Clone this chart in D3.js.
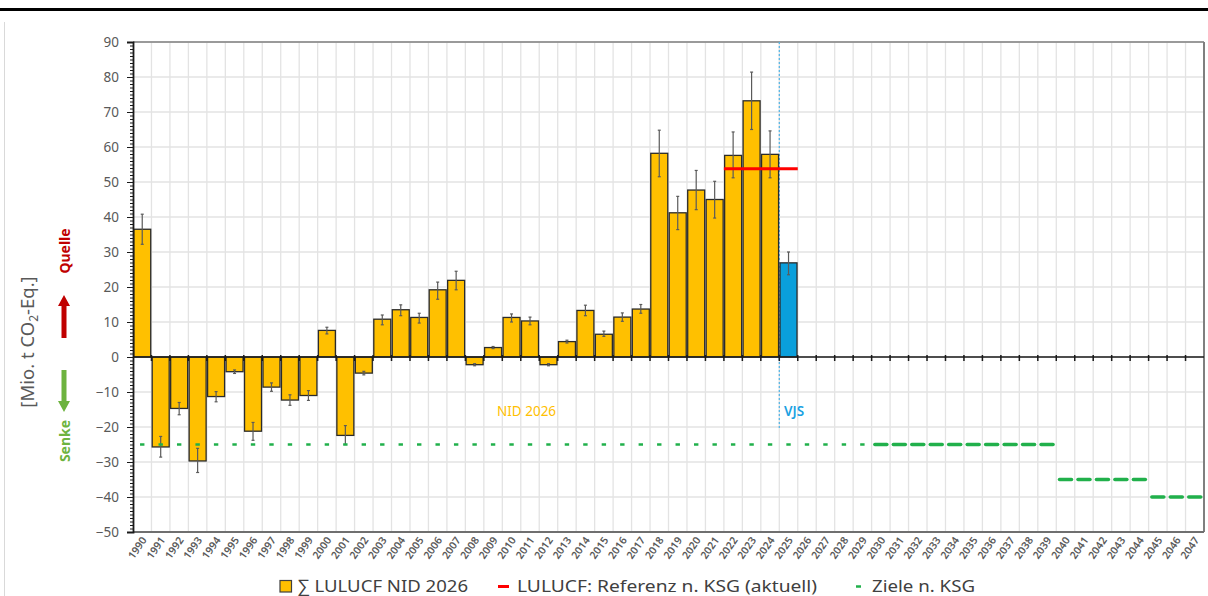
<!DOCTYPE html>
<html>
<head>
<meta charset="utf-8">
<script src="https://cdn.jsdelivr.net/npm/d3@7"></script>
<style>
  body { margin: 0; background: #fff; }
  svg text { font-family: "Noto Sans", "Open Sans", sans-serif; }
</style>
</head>
<body>
<div id="chart"></div>
<script>
// categories (all years on the x axis)
var years = [1990,1991,1992,1993,1994,1995,1996,1997,1998,1999,
  2000,2001,2002,2003,2004,2005,2006,2007,2008,2009,
  2010,2011,2012,2013,2014,2015,2016,2017,2018,2019,
  2020,2021,2022,2023,2024,2025,2026,2027,2028,2029,
  2030,2031,2032,2033,2034,2035,2036,2037,2038,2039,
  2040,2041,2042,2043,2044,2045,2046,2047];

// Sum LULUCF NID 2026 (1990-2024), Mio. t CO2-Eq.
var nidYears = [1990,1991,1992,1993,1994,1995,1996,1997,1998,1999,
  2000,2001,2002,2003,2004,2005,2006,2007,2008,2009,
  2010,2011,2012,2013,2014,2015,2016,2017,2018,2019,
  2020,2021,2022,2023,2024];
var nidValues = [36.5,-25.7,-14.7,-29.7,-11.3,-4.2,-21.2,-8.6,-12.3,-11.0,
  7.6,-22.4,-4.6,10.8,13.5,11.3,19.2,21.9,-2.2,2.7,
  11.3,10.3,-2.2,4.4,13.3,6.5,11.4,13.7,58.2,41.2,
  47.7,45.0,57.6,73.2,57.9];
var nidLow = [32.2,-28.6,-16.5,-33.0,-12.8,-4.7,-23.8,-9.8,-13.8,-12.4,
  6.6,-25.0,-5.1,9.2,11.8,9.7,16.5,19.2,-2.5,2.4,
  10.0,9.2,-2.5,4.0,11.8,5.9,10.2,12.5,51.5,36.4,
  42.1,39.7,51.2,65.0,51.2];
var nidHigh = [40.8,-22.7,-13.0,-26.1,-9.9,-3.7,-18.7,-7.4,-10.8,-9.6,
  8.5,-19.6,-4.1,12.0,14.9,12.5,21.4,24.5,-1.9,3.0,
  12.3,11.4,-1.9,4.8,14.8,7.4,12.6,15.0,64.8,45.9,
  53.3,50.2,64.3,81.4,64.6];

// VJS (2025)
var vjsYears = [2025];
var vjsValues = [26.9];
var vjsLow = [23.5];
var vjsHigh = [30.0];

// LULUCF: Referenz n. KSG (aktuell)
var refYears = [2022,2023,2024,2025];
var refValues = [53.8,53.8,53.8,53.8];

// Ziele n. KSG
var goalYears = years;
var goalValues = [-25,-25,-25,-25,-25,-25,-25,-25,-25,-25,
  -25,-25,-25,-25,-25,-25,-25,-25,-25,-25,
  -25,-25,-25,-25,-25,-25,-25,-25,-25,-25,
  -25,-25,-25,-25,-25,-25,-25,-25,-25,-25,
  -25,-25,-25,-25,-25,-25,-25,-25,-25,-25,
  -35,-35,-35,-35,-35,-40,-40,-40];

var yTicks = [90,80,70,60,50,40,30,20,10,0,-10,-20,-30,-40,-50];

var W = 1208, H = 596;
var pLeft = 133, pRight = 1204, pTop = 42, pBottom = 532;

var svg = d3.select("#chart").append("svg")
  .attr("width", W).attr("height", H);

// black rule under the (cropped) title
svg.append("rect").attr("x", 0).attr("y", 8).attr("width", W).attr("height", 3).attr("fill", "#000");
// faint chart frame
svg.append("line").attr("x1", 4.5).attr("x2", 4.5).attr("y1", 22).attr("y2", H)
  .attr("stroke", "#d9d9d9").attr("stroke-width", 1);

var x = d3.scaleBand().domain(years).range([pLeft, pRight]).padding(0);
var y = d3.scaleLinear().domain([-50, 90]).range([pBottom, pTop]);
var bw = x.bandwidth() * 0.92;
var cx = function(yr) { return x(yr) + x.bandwidth() / 2; };

// grid
svg.append("g").selectAll("line").data(yTicks).join("line")
  .attr("x1", pLeft).attr("x2", pRight)
  .attr("y1", d => y(d)).attr("y2", d => y(d))
  .attr("stroke", "#e3e3e3").attr("stroke-width", 1.3);
svg.append("g").selectAll("line").data(years.slice(1)).join("line")
  .attr("x1", d => x(d)).attr("x2", d => x(d))
  .attr("y1", pTop).attr("y2", pBottom)
  .attr("stroke", "#e3e3e3").attr("stroke-width", 1.3);

// plot border
svg.append("line").attr("x1", pLeft).attr("x2", pRight).attr("y1", pTop).attr("y2", pTop)
  .attr("stroke", "#7f7f7f").attr("stroke-width", 1.5);
svg.append("line").attr("x1", pRight).attr("x2", pRight).attr("y1", pTop).attr("y2", pBottom)
  .attr("stroke", "#7f7f7f").attr("stroke-width", 2);
svg.append("line").attr("x1", pLeft).attr("x2", pRight).attr("y1", pBottom).attr("y2", pBottom)
  .attr("stroke", "#6f6f6f").attr("stroke-width", 2);

// VJS divider
svg.append("line").attr("x1", x(2025)).attr("x2", x(2025))
  .attr("y1", pTop).attr("y2", 428)
  .attr("stroke", "#4fb3e6").attr("stroke-width", 1.2).attr("stroke-dasharray", "2,2");

// bars
var nid = nidYears.map((d, i) => ({yr: d, v: nidValues[i], lo: nidLow[i], hi: nidHigh[i]}));
var vjs = vjsYears.map((d, i) => ({yr: d, v: vjsValues[i], lo: vjsLow[i], hi: vjsHigh[i]}));

function drawBars(data, color) {
  svg.append("g").selectAll("rect").data(data).join("rect")
    .attr("x", d => cx(d.yr) - bw / 2)
    .attr("width", bw)
    .attr("y", d => y(Math.max(0, d.v)))
    .attr("height", d => Math.abs(y(d.v) - y(0)))
    .attr("fill", color)
    .attr("stroke", "#2b2b2b").attr("stroke-width", 1.3);
  var eb = svg.append("g").attr("stroke", "#5a5a5a").attr("stroke-width", 1.2);
  eb.selectAll("line.v").data(data).join("line").attr("class", "v")
    .attr("x1", d => cx(d.yr)).attr("x2", d => cx(d.yr))
    .attr("y1", d => y(d.lo)).attr("y2", d => y(d.hi));
  eb.selectAll("line.lo").data(data).join("line").attr("class", "lo")
    .attr("x1", d => cx(d.yr) - 1.5).attr("x2", d => cx(d.yr) + 1.5)
    .attr("y1", d => y(d.lo)).attr("y2", d => y(d.lo));
  eb.selectAll("line.hi").data(data).join("line").attr("class", "hi")
    .attr("x1", d => cx(d.yr) - 1.5).attr("x2", d => cx(d.yr) + 1.5)
    .attr("y1", d => y(d.hi)).attr("y2", d => y(d.hi));
}
drawBars(nid, "#FFC000");
drawBars(vjs, "#0A9FDB");

// reference line
svg.append("line")
  .attr("x1", x(refYears[0])).attr("x2", x(refYears[refYears.length - 1]) + x.bandwidth())
  .attr("y1", y(refValues[0])).attr("y2", y(refValues[refValues.length - 1]))
  .attr("stroke", "#FF0000").attr("stroke-width", 3);

// goal markers
var goals = goalYears.map((d, i) => ({yr: d, v: goalValues[i]}));
svg.append("g").selectAll("line").data(goals).join("line")
  .attr("x1", d => cx(d.yr) - (d.yr >= 2030 ? 6 : 2.2))
  .attr("x2", d => cx(d.yr) + (d.yr >= 2030 ? 6 : 2.2))
  .attr("y1", d => y(d.v)).attr("y2", d => y(d.v))
  .attr("stroke", "#21B04B")
  .attr("stroke-width", d => d.yr >= 2030 ? 3.5 : 2.5)
  .attr("stroke-linecap", d => d.yr >= 2030 ? "round" : "butt");

// zero axis with ticks at category boundaries
svg.append("line").attr("x1", pLeft).attr("x2", pRight).attr("y1", y(0)).attr("y2", y(0))
  .attr("stroke", "#1a1a1a").attr("stroke-width", 1.3);
svg.append("g").selectAll("line").data(years.slice(1)).join("line")
  .attr("x1", d => x(d)).attr("x2", d => x(d))
  .attr("y1", y(0) - 2).attr("y2", y(0) + 4)
  .attr("stroke", "#1a1a1a").attr("stroke-width", 1.5);

// y axis: minor + major ticks
var minor = [];
for (var v = -50; v <= 90; v++) minor.push(v);
svg.append("g").attr("transform", "translate(" + pLeft + ",0)")
  .call(d3.axisLeft(y).tickValues(minor).tickSize(3).tickFormat(""))
  .call(g => g.select(".domain").remove())
  .selectAll("line").attr("stroke", "#1a1a1a");
var ya = svg.append("g").attr("transform", "translate(" + pLeft + ",0)")
  .call(d3.axisLeft(y).tickValues(yTicks).tickSize(6).tickPadding(8));
ya.select(".domain").attr("stroke", "#1a1a1a").attr("stroke-width", 1.8);
ya.selectAll("line").attr("stroke", "#1a1a1a");
ya.selectAll("text").attr("fill", "#595959").style("font-size", "13.5px");

// x labels (bottom, rotated)
var xa = svg.append("g").attr("transform", "translate(0," + pBottom + ")")
  .call(d3.axisBottom(x).tickSize(0).tickPadding(0));
xa.select(".domain").remove();
xa.selectAll("text")
  .attr("fill", "#595959").style("font-size", "10.5px").style("font-weight", "600")
  .attr("text-anchor", "end")
  .attr("dy", "0.35em")
  .attr("transform", "translate(2,6) rotate(-55)");

// annotations
svg.append("text").attr("x", 497).attr("y", 416).text("NID 2026")
  .attr("fill", "#FFC000").style("font-size", "13.5px");
svg.append("text").attr("x", 784).attr("y", 416).text("VJS")
  .attr("fill", "#1BA1E2").style("font-size", "13.5px").style("font-weight", "600");

// y axis title
var yt = svg.append("text").attr("transform", "translate(34,342) rotate(-90)")
  .attr("text-anchor", "middle").attr("fill", "#595959").style("font-size", "18.5px");
yt.append("tspan").text("[Mio. t CO");
yt.append("tspan").text("2").style("font-size", "12px").attr("dy", 4);
yt.append("tspan").text("-Eq.]").attr("dy", -4);

svg.append("text").attr("transform", "translate(70,251) rotate(-90)")
  .attr("text-anchor", "middle").attr("fill", "#C00000")
  .style("font-size", "14px").style("font-weight", "bold").text("Quelle");
svg.append("text").attr("transform", "translate(70,441) rotate(-90)")
  .attr("text-anchor", "middle").attr("fill", "#6DB33F")
  .style("font-size", "14px").style("font-weight", "bold").text("Senke");

// arrows
svg.append("path").attr("d", "M61.5,338 L61.5,306 L58,306 L64,295 L70,306 L66.5,306 L66.5,338 Z")
  .attr("fill", "#C00000");
svg.append("path").attr("d", "M61.5,370 L61.5,401 L58,401 L64,412 L70,401 L66.5,401 L66.5,370 Z")
  .attr("fill", "#6DB33F");

// legend
var lg = svg.append("g").style("font-size", "17px");
lg.append("rect").attr("x", 280).attr("y", 580.5).attr("width", 11.5).attr("height", 11.5)
  .attr("fill", "#FFC000").attr("stroke", "#404040").attr("stroke-width", 1.2);
lg.append("text").attr("x", 298).attr("y", 592).text("∑ LULUCF NID 2026").attr("fill", "#404040")
  .attr("textLength", 170).attr("lengthAdjust", "spacingAndGlyphs");
lg.append("line").attr("x1", 498).attr("x2", 509).attr("y1", 586.5).attr("y2", 586.5)
  .attr("stroke", "#FF0000").attr("stroke-width", 3);
lg.append("text").attr("x", 517).attr("y", 592).text("LULUCF: Referenz n. KSG (aktuell)").attr("fill", "#404040")
  .attr("textLength", 300).attr("lengthAdjust", "spacingAndGlyphs");
lg.append("line").attr("x1", 856).attr("x2", 861).attr("y1", 586.5).attr("y2", 586.5)
  .attr("stroke", "#21B04B").attr("stroke-width", 2.5);
lg.append("text").attr("x", 872).attr("y", 592).text("Ziele n. KSG").attr("fill", "#404040")
  .attr("textLength", 103).attr("lengthAdjust", "spacingAndGlyphs");
</script>
</body>
</html>
